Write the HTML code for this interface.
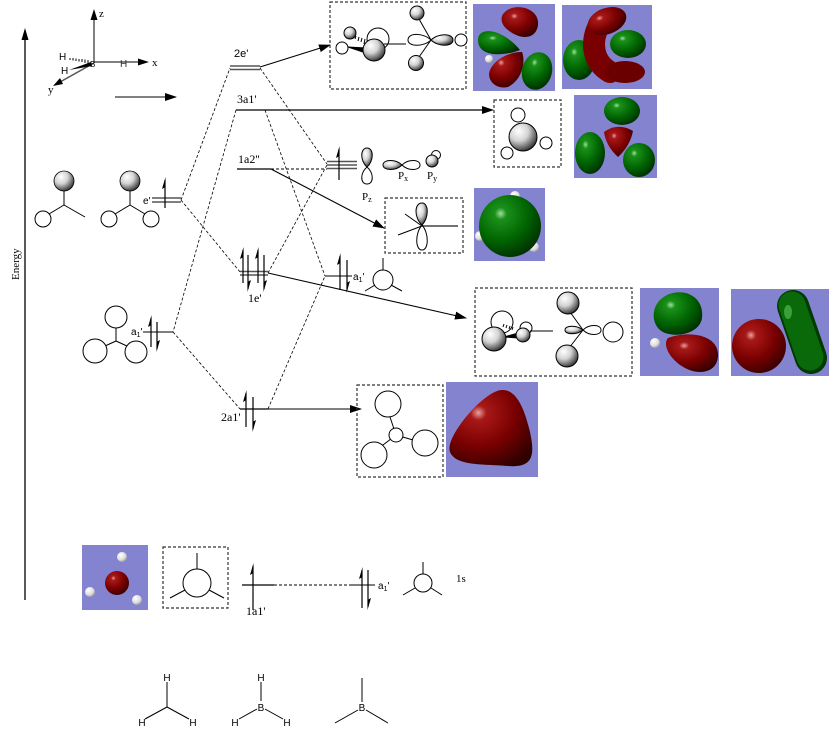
<!DOCTYPE html>
<html><head><meta charset="utf-8"><style>
html,body{margin:0;padding:0;background:#fff;}
svg{display:block;}
.ser{font-family:"Liberation Serif",serif;}
.san{font-family:"Liberation Sans",sans-serif;}
</style></head><body>
<svg width="840" height="748" viewBox="0 0 840 748" xmlns="http://www.w3.org/2000/svg">
<defs>
<radialGradient id="sph" cx="0.35" cy="0.3" r="0.75">
 <stop offset="0" stop-color="#fff"/><stop offset="0.45" stop-color="#d4d4d4"/><stop offset="0.85" stop-color="#5a5a5a"/><stop offset="1" stop-color="#2a2a2a"/>
</radialGradient>
<radialGradient id="red" cx="0.35" cy="0.3" r="0.8">
 <stop offset="0" stop-color="#e6a0a0"/><stop offset="0.12" stop-color="#a81818"/><stop offset="0.55" stop-color="#7a0000"/><stop offset="1" stop-color="#2e0000"/>
</radialGradient>
<radialGradient id="grn" cx="0.35" cy="0.3" r="0.8">
 <stop offset="0" stop-color="#a0e0a0"/><stop offset="0.12" stop-color="#1a901a"/><stop offset="0.55" stop-color="#006400"/><stop offset="1" stop-color="#002600"/>
</radialGradient>
<radialGradient id="wht" cx="0.35" cy="0.3" r="0.8">
 <stop offset="0" stop-color="#fff"/><stop offset="0.6" stop-color="#ddd"/><stop offset="1" stop-color="#888"/>
</radialGradient>
<marker id="ah" markerUnits="userSpaceOnUse" markerWidth="12" markerHeight="8" refX="11" refY="4" orient="auto">
 <path d="M0,0 L12,4 L0,8 z" fill="#000"/>
</marker>
</defs>

<!-- Energy axis -->
<line x1="25" y1="38" x2="25" y2="600" stroke="#000" stroke-width="1.3"/>
<path d="M25,28 L21.5,40 L28.5,40 Z" fill="#000"/>
<text class="ser" x="0" y="0" font-size="11" transform="translate(19,280) rotate(-90)">Energy</text>

<!-- coordinate system -->
<g stroke="#555" stroke-width="1.5">
 <line x1="94" y1="63" x2="94" y2="18"/>
 <line x1="94" y1="62" x2="140" y2="62"/>
 <line x1="94" y1="63" x2="60" y2="82"/>
</g>
<path d="M94,9 L90.5,20 L97.5,20 Z" fill="#000"/>
<path d="M149,62 L138,58.5 L138,65.5 Z" fill="#000"/>
<path d="M53,86 L60,78 L63,84 Z" fill="#000"/>
<g stroke="#000" stroke-width="1">
 <line x1="70" y1="58" x2="70" y2="60"/><line x1="73" y1="58" x2="73" y2="60.5"/><line x1="76" y1="58.5" x2="76" y2="61"/><line x1="79" y1="59" x2="79" y2="61.5"/><line x1="82" y1="59" x2="82" y2="62"/><line x1="85" y1="59.5" x2="85" y2="63"/><line x1="88" y1="60" x2="88" y2="63.5"/>
</g>
<path d="M69,70 L91,62 L92,66 Z" fill="#000"/>
<text class="san" x="59" y="60" font-size="10">H</text>
<text class="san" x="61" y="74" font-size="10">H</text>
<text class="san" x="120" y="67" font-size="10" fill="#333">H</text>
<text class="san" x="90" y="67" font-size="8">B</text>
<text class="ser" x="99" y="17" font-size="11">z</text>
<text class="ser" x="152" y="66" font-size="11">x</text>
<text class="ser" x="48" y="93" font-size="11">y</text>
<line x1="115" y1="97" x2="176" y2="97" stroke="#000" stroke-width="1" marker-end="url(#ah)"/>

<!-- left fragments -->
<g stroke="#000" stroke-width="1" fill="none">
 <line x1="64" y1="190" x2="64" y2="205"/><line x1="64" y1="205" x2="49" y2="214"/><line x1="64" y1="205" x2="85" y2="217"/>
 <circle cx="43" cy="219" r="8" fill="#fff"/>
 <line x1="130" y1="190" x2="130" y2="205"/><line x1="130" y1="205" x2="115" y2="214"/><line x1="130" y1="205" x2="145" y2="214"/>
 <circle cx="109" cy="219" r="8" fill="#fff"/><circle cx="151" cy="219" r="8" fill="#fff"/>
</g>
<circle cx="64" cy="181" r="10" fill="url(#sph)" stroke="#000" stroke-width="0.8"/>
<circle cx="130" cy="181" r="10" fill="url(#sph)" stroke="#000" stroke-width="0.8"/>

<g stroke="#000" stroke-width="1" fill="none">
 <line x1="116" y1="341" x2="116" y2="328"/><line x1="116" y1="341" x2="105" y2="346"/><line x1="116" y1="341" x2="127" y2="346"/>
 <circle cx="116" cy="317" r="11" fill="#fff"/>
 <circle cx="95" cy="351" r="12" fill="#fff"/>
 <circle cx="136" cy="352" r="11" fill="#fff"/>
</g>

<!-- levels -->
<g stroke="#555" stroke-width="1.5">
 <line x1="230" y1="66" x2="260" y2="66"/><line x1="230" y1="69.5" x2="260" y2="69.5"/>
 <line x1="152" y1="198" x2="181" y2="198"/><line x1="152" y1="202" x2="181" y2="202"/>
 <line x1="327" y1="161.5" x2="357" y2="161.5"/><line x1="327" y1="165" x2="357" y2="165"/><line x1="327" y1="168.5" x2="357" y2="168.5"/>
 <line x1="240" y1="271.5" x2="268" y2="271.5"/><line x1="240" y1="275" x2="268" y2="275"/>
 <line x1="143" y1="332" x2="173" y2="332"/>
 <line x1="325" y1="276" x2="352" y2="276"/>
 <line x1="350" y1="585" x2="375" y2="585"/>
</g>
<g stroke="#000" stroke-width="1.2">
 <line x1="236" y1="110" x2="482" y2="110"/>
 <line x1="237" y1="169" x2="271" y2="169"/>
 <line x1="240" y1="409" x2="268" y2="409"/>
 <line x1="242" y1="585" x2="274" y2="585"/>
</g>
<g stroke="#000" stroke-width="1" stroke-dasharray="3,2">
 <line x1="271" y1="169" x2="327" y2="169"/>
 <line x1="274" y1="585" x2="350" y2="585"/>
</g>

<!-- correlation dashed lines -->
<g stroke="#000" stroke-width="0.8" stroke-dasharray="3,2" fill="none">
 <line x1="181" y1="200" x2="230" y2="68"/>
 <line x1="181" y1="200" x2="240" y2="272"/>
 <line x1="260" y1="68" x2="327" y2="164"/>
 <line x1="268" y1="273" x2="327" y2="165"/>
 <line x1="236" y1="110" x2="173" y2="332"/>
 <line x1="265" y1="110" x2="325" y2="276"/>
 <line x1="173" y1="332" x2="240" y2="409"/>
 <line x1="268" y1="409" x2="325" y2="276"/>
</g>

<!-- solid arrows -->
<g stroke="#000" stroke-width="1.1" fill="none">
 <line x1="260" y1="67" x2="330" y2="45" marker-end="url(#ah)"/>
 <line x1="470" y1="110" x2="493" y2="110" marker-end="url(#ah)"/>
 <line x1="271" y1="169" x2="384" y2="228" marker-end="url(#ah)"/>
 <line x1="268" y1="273" x2="466" y2="318" marker-end="url(#ah)"/>
 <line x1="268" y1="409" x2="361" y2="409" marker-end="url(#ah)"/>
</g>

<!-- electrons -->
<g stroke="#000" stroke-width="1.2">
 <line x1="165" y1="208" x2="165" y2="180"/>
 <line x1="151" y1="347" x2="151" y2="318"/><line x1="157" y1="322" x2="157" y2="349"/>
 <line x1="246" y1="427" x2="246" y2="393"/><line x1="253" y1="397" x2="253" y2="429"/>
 <line x1="243" y1="283" x2="243" y2="250"/><line x1="248" y1="255" x2="248" y2="289"/>
 <line x1="258" y1="283" x2="258" y2="250"/><line x1="264" y1="255" x2="264" y2="289"/>
 <line x1="340" y1="290" x2="340" y2="256"/><line x1="347" y1="260" x2="347" y2="290"/>
 <line x1="339" y1="180" x2="339" y2="149"/>
 <line x1="253" y1="610" x2="253" y2="566"/>
 <line x1="362" y1="608" x2="362" y2="570"/><line x1="368" y1="570" x2="368" y2="607"/>
</g>
<g fill="#000">
 <path d="M165.5,177 L162,189 L165.5,187 Z"/>
 <path d="M151.5,315 L148,327 L151.5,325 Z"/><path d="M156.5,352 L160,340 L156.5,342 Z"/>
 <path d="M246.5,390 L243,402 L246.5,400 Z"/><path d="M252.5,432 L256,420 L252.5,422 Z"/>
 <path d="M243.5,247 L240,259 L243.5,257 Z"/><path d="M247.5,292 L251,280 L247.5,282 Z"/>
 <path d="M258.5,247 L255,259 L258.5,257 Z"/><path d="M263.5,292 L267,280 L263.5,282 Z"/>
 <path d="M340.5,253 L337,265 L340.5,263 Z"/><path d="M346.5,293 L350,281 L346.5,283 Z"/>
 <path d="M339.5,146 L336,158 L339.5,156 Z"/>
 <path d="M253.5,563 L250,575 L253.5,573 Z"/>
 <path d="M362.5,567 L359,579 L362.5,577 Z"/><path d="M367.5,610 L371,598 L367.5,600 Z"/>
</g>

<!-- level labels -->
<text class="san" x="234" y="57" font-size="11">2e'</text>
<text class="ser" x="237" y="103" font-size="12">3a1'</text>
<text class="ser" x="238" y="163" font-size="12">1a2''</text>
<text class="san" x="143" y="204" font-size="10">e'</text>
<text class="san" x="131" y="335" font-size="10">a<tspan font-size="7" dy="2">1</tspan><tspan dy="-2">'</tspan></text>
<text class="ser" x="221" y="421" font-size="12">2a1'</text>
<text class="ser" x="248" y="302" font-size="12">1e'</text>
<text class="san" x="353" y="280" font-size="10">a<tspan font-size="7" dy="2">1</tspan><tspan dy="-2">'</tspan></text>
<text class="ser" x="246" y="615" font-size="12">1a1'</text>
<text class="san" x="378" y="589" font-size="10">a<tspan font-size="7" dy="2">1</tspan><tspan dy="-2">'</tspan></text>
<text class="ser" x="456" y="582" font-size="11">1s</text>

<!-- p orbitals near BH3 -->
<g stroke="#000" stroke-width="1">
 <path d="M367,167 C360,161 360,148 367,148 C374,148 374,161 367,167 Z" fill="url(#sph)"/>
 <path d="M367,167 C360,173 360,184 367,184 C374,184 374,173 367,167 Z" fill="#fff"/>
 <path d="M402,165 C396,159 383,159 383,165 C383,171 396,171 402,165 Z" fill="url(#sph)"/>
 <path d="M402,165 C408,159 420,159 420,165 C420,171 408,171 402,165 Z" fill="#fff"/>
 <circle cx="436" cy="155" r="4.5" fill="#fff"/>
 <circle cx="432" cy="161" r="6" fill="url(#sph)"/>
</g>
<text class="ser" x="398" y="179" font-size="11">P<tspan font-size="8" dy="2">x</tspan></text>
<text class="ser" x="427" y="179" font-size="11">P<tspan font-size="8" dy="2">y</tspan></text>
<text class="ser" x="362" y="200" font-size="11">P<tspan font-size="8" dy="2">z</tspan></text>

<!-- right a1' fragment (middle) -->
<g stroke="#000" stroke-width="1" fill="none">
 <line x1="383" y1="258" x2="383" y2="270"/>
 <line x1="375" y1="285" x2="365" y2="291"/><line x1="391" y1="285" x2="402" y2="291"/>
 <circle cx="383" cy="280" r="10"/>
</g>

<!-- dashed boxes -->
<g stroke="#333" stroke-width="1.2" stroke-dasharray="3,2" fill="none">
 <rect x="330" y="2" width="136" height="87"/>
 <rect x="494" y="100" width="67" height="67"/>
 <rect x="385" y="198" width="78" height="55"/>
 <rect x="475" y="288" width="157" height="88"/>
 <rect x="357" y="385" width="86" height="92"/>
 <rect x="163" y="547" width="65" height="61"/>
</g>

<!-- 2e' box contents -->
<g stroke="#000" stroke-width="1">
 <circle cx="378" cy="39" r="11" fill="#fff"/>
 <line x1="384" y1="44" x2="406" y2="44"/>
 <circle cx="342" cy="48" r="6" fill="#fff"/>
 <circle cx="350" cy="33" r="6" fill="url(#sph)"/>
 <path d="M348,47 L366,48 L366,53 Z" fill="#000"/>
 <g stroke-width="1"><line x1="356" y1="36" x2="355" y2="39"/><line x1="359" y1="37" x2="358" y2="41"/><line x1="362" y1="38" x2="361" y2="42"/><line x1="365" y1="39" x2="364" y2="44"/></g>
 <circle cx="374" cy="50" r="11" fill="url(#sph)"/>
 <line x1="431" y1="40" x2="419" y2="19"/><line x1="431" y1="40" x2="419" y2="57"/>
 <circle cx="417" cy="13" r="7" fill="url(#sph)"/>
 <circle cx="416" cy="63" r="7.5" fill="url(#sph)"/>
 <path d="M431,40 C424,33 408,32 408,40 C408,47 424,47 431,40 Z" fill="#fff"/>
 <path d="M431,40 C438,33 453,33 453,40 C453,47 438,47 431,40 Z" fill="url(#sph)"/>
 <circle cx="461" cy="40" r="6" fill="#fff"/>
</g>

<!-- 3a1' box -->
<g stroke="#000" stroke-width="1">
 <circle cx="518" cy="115" r="7" fill="#fff"/>
 <circle cx="546" cy="143" r="6" fill="#fff"/>
 <circle cx="507" cy="153" r="6" fill="#fff"/>
 <circle cx="523" cy="137" r="14" fill="url(#sph)"/>
</g>

<!-- 1a2'' box -->
<g stroke="#000" stroke-width="1">
 <line x1="422" y1="226" x2="458" y2="226" stroke="#444" stroke-width="1.5"/>
 <line x1="422" y1="226" x2="398" y2="235"/>
 <line x1="422" y1="226" x2="405" y2="214"/>
 <path d="M422,225 C415,233 415,250 422,250 C429,250 429,233 422,225 Z" fill="none"/>
 <path d="M422,225 C414,218 414,203 422,203 C429,203 429,218 422,225 Z" fill="url(#sph)"/>
</g>

<!-- 1e' box -->
<g stroke="#000" stroke-width="1">
 <circle cx="502" cy="322" r="11" fill="#fff"/>
 <circle cx="526" cy="328" r="6" fill="#fff"/>
 <line x1="530" y1="331" x2="553" y2="331"/>
 <g><line x1="503" y1="327" x2="504" y2="324"/><line x1="506" y1="328" x2="507" y2="325"/><line x1="509" y1="329" x2="510" y2="326"/><line x1="512" y1="330" x2="513" y2="327"/></g>
 <path d="M504,337 L518,333 L518,338 Z" fill="#000"/>
 <circle cx="494" cy="339" r="12" fill="url(#sph)"/>
 <circle cx="523" cy="335" r="7" fill="url(#sph)"/>
 <line x1="583" y1="330" x2="570" y2="312"/><line x1="583" y1="330" x2="569" y2="348"/>
 <circle cx="568" cy="303" r="11" fill="url(#sph)"/>
 <circle cx="567" cy="356" r="11" fill="url(#sph)"/>
 <path d="M583,330 C577,325 565,325 565,330 C565,335 577,335 583,330 Z" fill="url(#sph)"/>
 <path d="M583,330 C589,324 601,324 601,330 C601,336 589,336 583,330 Z" fill="#fff"/>
 <circle cx="613" cy="332" r="10" fill="#fff"/>
</g>

<!-- 2a1' box -->
<g stroke="#000" stroke-width="1" fill="#fff">
 <line x1="396" y1="435" x2="390" y2="417"/>
 <line x1="396" y1="435" x2="413" y2="440"/>
 <line x1="396" y1="435" x2="383" y2="445"/>
 <circle cx="396" cy="435" r="7"/>
 <circle cx="388" cy="404" r="13"/>
 <circle cx="425" cy="443" r="13"/>
 <circle cx="374" cy="455" r="13"/>
</g>

<!-- bottom box -->
<g stroke="#000" stroke-width="1" fill="none">
 <line x1="197" y1="553" x2="197" y2="569"/>
 <line x1="185" y1="590" x2="170" y2="598"/><line x1="209" y1="590" x2="224" y2="598"/>
 <circle cx="197" cy="583" r="14"/>
</g>
<!-- bottom right fragment -->
<g stroke="#000" stroke-width="1" fill="none">
 <line x1="423" y1="562" x2="423" y2="574"/>
 <line x1="415" y1="588" x2="403" y2="595"/><line x1="431" y1="588" x2="442" y2="595"/>
 <circle cx="423" cy="583" r="9"/>
</g>

<!-- orbital images -->
<rect x="473" y="4" width="82" height="87" fill="#8383d0"/>
<path d="M505,12 C515,2 540,8 538,25 C536,40 520,40 508,30 C500,24 500,16 505,12 Z" fill="url(#red)"/>
<path d="M478,40 C478,26 502,28 520,50 C505,56 478,58 478,40 Z" fill="url(#grn)"/>
<path d="M522,52 C526,62 522,80 508,87 C496,90 486,80 490,70 C494,60 508,52 522,52 Z" fill="url(#red)"/>
<ellipse cx="537" cy="71" rx="15" ry="19" transform="rotate(15 537 71)" fill="url(#grn)"/>
<circle cx="489" cy="59" r="4" fill="url(#wht)"/>

<rect x="562" y="5" width="90" height="84" fill="#8383d0"/>
<ellipse cx="579" cy="60" rx="16" ry="20" fill="url(#grn)"/>
<ellipse cx="628" cy="44" rx="18" ry="14" fill="url(#grn)"/>
<path d="M600,24 C590,40 592,62 610,72" stroke="#780000" stroke-width="22" fill="none" stroke-linecap="round"/>
<ellipse cx="607" cy="21" rx="20" ry="13" transform="rotate(-20 607 21)" fill="url(#red)"/>
<ellipse cx="625" cy="72" rx="20" ry="11" fill="#6a0000"/>

<rect x="574" y="95" width="83" height="83" fill="#8383d0"/>
<ellipse cx="622" cy="111" rx="18" ry="14" fill="url(#grn)"/>
<ellipse cx="590" cy="153" rx="15" ry="21" fill="url(#grn)"/>
<ellipse cx="639" cy="160" rx="16" ry="17" fill="url(#grn)"/>
<path d="M604,132 Q618,122 633,131 Q630,146 618,157 Q606,146 604,132 Z" fill="url(#red)"/>

<rect x="474" y="188" width="71" height="73" fill="#8383d0"/>
<circle cx="515" cy="196" r="5" fill="url(#wht)"/>
<circle cx="480" cy="236" r="5" fill="url(#wht)"/>
<circle cx="534" cy="247" r="5" fill="url(#wht)"/>
<circle cx="510" cy="226" r="31" fill="url(#grn)"/>

<rect x="640" y="288" width="79" height="88" fill="#8383d0"/>
<path d="M660,300 C675,285 705,292 702,318 C700,332 680,338 665,333 C652,328 650,310 660,300 Z" fill="url(#grn)"/>
<path d="M668,338 C690,330 718,335 718,355 C718,372 700,376 685,368 C670,360 662,345 668,338 Z" fill="url(#red)"/>
<circle cx="655" cy="343" r="5" fill="url(#wht)"/>

<rect x="731" y="289" width="98" height="87" fill="#8383d0"/>
<line x1="793" y1="306" x2="811" y2="358" stroke="#003a00" stroke-width="32" stroke-linecap="round"/>
<line x1="792" y1="305" x2="810" y2="357" stroke="#0a6a0a" stroke-width="27" stroke-linecap="round"/>
<ellipse cx="788" cy="312" rx="4" ry="7" fill="#3aa03a"/>
<circle cx="759" cy="346" r="27" fill="url(#red)"/>

<rect x="446" y="382" width="92" height="95" fill="#8383d0"/>
<path d="M497,391 C512,386 522,400 529,428 C536,456 533,468 508,466 C482,464 456,466 450,452 C445,438 478,398 497,391 Z" fill="url(#red)"/>

<rect x="82" y="545" width="66" height="65" fill="#8383d0"/>
<circle cx="117" cy="583" r="12" fill="url(#red)"/>
<circle cx="122" cy="557" r="5" fill="url(#wht)"/>
<circle cx="90" cy="592" r="5" fill="url(#wht)"/>
<circle cx="137" cy="600" r="5" fill="url(#wht)"/>

<!-- bottom structures -->
<g stroke="#000" stroke-width="1">
 <line x1="167" y1="682" x2="167" y2="707"/><line x1="167" y1="707" x2="145" y2="719"/><line x1="167" y1="707" x2="189" y2="719"/>
 <line x1="261" y1="682" x2="261" y2="701"/><line x1="257" y1="709" x2="239" y2="719"/><line x1="265" y1="709" x2="283" y2="719"/>
 <line x1="362" y1="678" x2="362" y2="702"/><line x1="358" y1="710" x2="335" y2="723"/><line x1="366" y1="710" x2="388" y2="723"/>
</g>
<g class="san" font-size="10" text-anchor="middle">
 <text x="167" y="681">H</text><text x="142" y="726">H</text><text x="193" y="726">H</text>
 <text x="261" y="681">H</text><text x="261" y="711">B</text><text x="235" y="726">H</text><text x="287" y="726">H</text>
 <text x="362" y="711">B</text>
</g>
</svg>
</body></html>
